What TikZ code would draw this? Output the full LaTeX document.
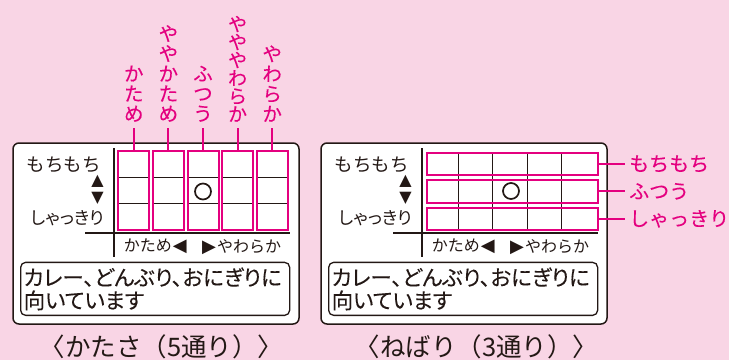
\documentclass[tikz,border=0pt]{standalone}
\usepackage{fontspec}
\newfontfamily\jp{Noto Sans CJK JP}
\newfontfamily\jpb[FakeBold=0.1]{Noto Sans CJK JP}
\newfontfamily\jpp[FakeBold=0.08,RawFeature=+palt]{Noto Sans CJK JP}
\newfontfamily\sym{DejaVu Sans}
\usetikzlibrary{positioning}
\definecolor{bgpink}{RGB}{249,213,229}
\definecolor{mag}{RGB}{228,0,127}
\definecolor{ink}{RGB}{35,24,21}

\tikzset{
  panel/.style={draw=ink, line width=1.5pt, rounded corners=6pt, fill=white},
  axis line/.style={draw=ink, line width=1.7pt},
  cell/.style={draw=mag, line width=2pt, inner sep=0pt},
  grid line/.style={draw=ink, line width=0.7pt},
  mag line/.style={draw=mag, line width=2pt},
  ring/.style={circle, draw=ink, line width=1.7pt, minimum size=16pt, inner sep=0pt},
  top label/.style={text=mag, font=\jpb\fontsize{19.5}{20}\selectfont, align=center, inner sep=0pt, anchor=south},
  side label/.style={text=mag, font=\jpb\fontsize{20}{24}\selectfont, inner xsep=4pt, inner ysep=0pt, anchor=west},
  axis label/.style={text=ink, font=\jp\fontsize{16}{18}\selectfont, inner sep=0pt},
  feel label/.style={text=ink, font=\jp\fontsize{18.5}{20}\selectfont, inner sep=0pt, anchor=east},
  arrow glyph/.style={text=ink, font=\sym\fontsize{16}{18}\selectfont, inner sep=0pt},
  memo box/.style={draw=ink, line width=1.3pt, rounded corners=5pt, minimum width=269pt, minimum height=53pt,
    text width=263pt, align=left, inner xsep=3pt, text=ink, font=\jpp\fontsize{21.5}{23}\selectfont, anchor=north west},
  caption/.style={text=ink, font=\jp\fontsize{25.5}{28}\selectfont, inner sep=0pt}
}

\begin{document}
\begin{tikzpicture}[x=1pt,y=-1pt]
  \fill[bgpink] (0,0) rectangle (729,360);
  \useasboundingbox (0,0) rectangle (729,360);

  % the two panels share the frame, axes and texts
  \foreach \p/\dx in {L/0,R/308}{
    \begin{scope}[xshift=\dx pt]
      \draw[panel] (13,143) rectangle (299,324);
      \draw[axis line] (114.3,148) -- (114.3,257);
      \draw[axis line] (85,232.7) -- (290,232.7);
      \node[feel label] (mochi\p) at (101,165) {もちもち};
      \node[feel label, font=\jp\fontsize{17.5}{20}\selectfont\addfontfeature{RawFeature=+palt}] (shakki\p) at (104,218) {しゃっきり};
      \node[arrow glyph] (up\p) at (97.5,181.7) {▲};
      \node[arrow glyph] (down\p) at (97.5,198.3) {▼};
      \node[axis label, anchor=east] (hard\p) at (187,246.7) {かため\hspace{1pt}{\sym\fontsize{18}{18}\selectfont ◀}};
      \node[axis label, anchor=west] (soft\p) at (202,246.7) {{\sym\fontsize{18}{18}\selectfont ▶}\hspace{1pt}やわらか};
      \node[memo box] (memo\p) at (20,261.7) {カレー、どんぶり、おにぎりに\\向いています};
    \end{scope}
  }

  % hardness: five columns
  \foreach \i/\x in {1/133.8,2/168.4,3/203,4/237.6,5/272.2}{
    \node[cell, minimum width=31pt, minimum height=79.3pt] (col\i) at (\x,190.4) {};
    \draw[grid line] ({\x-14.5},177.1) -- ({\x+14.5},177.1);
    \draw[grid line] ({\x-14.5},203.6) -- ({\x+14.5},203.6);
  }
  \node[ring] (pickL) at (203,191.5) {};

  \node[top label] (top1) at (133.8,122) {か\\た\\め};
  \node[top label] (top2) at (168.4,122) {や\\や\\か\\た\\め};
  \node[top label] (top3) at (203,122) {ふ\\つ\\う};
  \node[top label, font=\jpb\fontsize{19}{18}\selectfont] (top4) at (237.6,122) {や\\や\\や\\わ\\ら\\か};
  \node[top label] (top5) at (272.2,122) {や\\わ\\ら\\か};
  \foreach \i in {1,...,5}
    \draw[mag line, shorten <=6pt] (top\i) -- (col\i);

  % stickiness: three rows
  \foreach \x in {458.3,492.7,527.3,561.7}
    \draw[grid line] (\x,152.7) -- (\x,230);
  \foreach \j/\y/\t in {1/163.8/もちもち,2/191.3/ふつう,3/218.8/しゃっきり}{
    \node[cell, minimum width=171.3pt, minimum height=22.5pt] (row\j) at (512.3,\y) {};
    \node[side label] (side\j) at (625,\y) {\t};
    \draw[mag line] (row\j) -- (side\j);
  }
  \node[ring] (pickR) at (511,191) {};

  \node[caption] (capL) at (161.5,347) {〈かたさ（5通り）〉};
  \node[caption] (capR) at (476.5,347) {〈ねばり（3通り）〉};
\end{tikzpicture}
\end{document}
